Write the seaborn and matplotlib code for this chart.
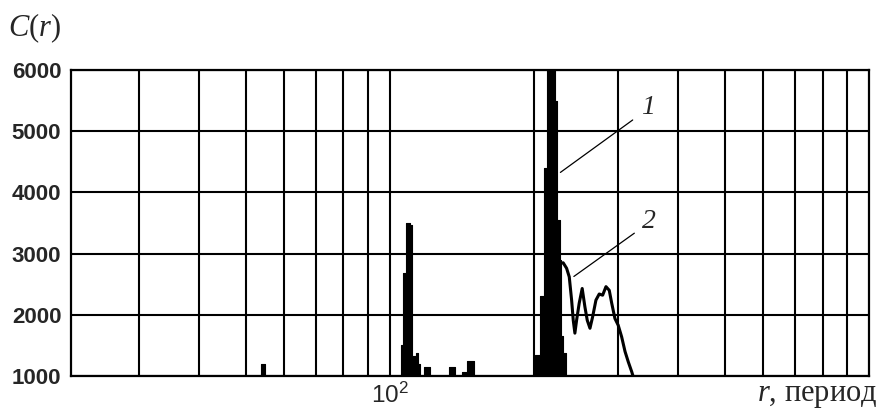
import matplotlib
matplotlib.use('Agg')
import matplotlib.pyplot as plt
import numpy as np
import pandas as pd
import seaborn as sns

# values
# curve 1: black spikes, step heights starting at each r edge (1000 = baseline)
bar_r = [53.8, 55.0, 105.4, 106.6, 107.8, 110.1, 111.0, 113.2, 114.6, 115.5,
         117.9, 121.2, 132.8, 136.7, 141.1, 144.6, 149.7,
         201.2, 205.6, 209.6, 212.3, 221.0, 223.5, 226.1, 227.8, 230.2, 233.4]
bar_c = [1200, 1000, 1500, 2680, 3500, 3470, 1320, 1380, 1200, 1000,
         1140, 1000, 1140, 1000, 1070, 1250, 1000,
         1340, 2300, 4400, 6000, 5500, 3550, 2900, 1650, 1380, 1000]

# curve 2: thin line
curve_r = [223.5, 226.4, 230.0, 233.8, 236.8, 239.5, 241.4, 243.3, 245.3, 248.4,
           252.0, 255.3, 258.2, 261.6, 265.0, 269.2, 273.5, 278.0, 282.5, 287.0,
           290.4, 294.9, 299.6, 304.6, 309.6, 314.5, 319.7, 321.7]
curve_c = [2850, 2840, 2850, 2760, 2620, 2240, 1910, 1700, 1910, 2190,
           2430, 2130, 1910, 1780, 1970, 2240, 2340, 2320, 2460, 2400,
           2190, 1940, 1830, 1640, 1400, 1230, 1070, 1000]

y_ticks = [1000, 2000, 3000, 4000, 5000, 6000]
x_minor = [30, 40, 50, 60, 70, 80, 90, 200, 300, 400, 500, 600, 700, 800, 900]

sns.set_style('white')
plt.rcParams['mathtext.fontset'] = 'custom'
plt.rcParams['mathtext.it'] = 'Liberation Serif:italic'
plt.rcParams['mathtext.rm'] = 'Liberation Serif'
plt.rcParams['path.simplify'] = False

fig = plt.figure(figsize=(8.82, 4.11), dpi=100)
ax = fig.add_axes([71 / 882, 1 - 376 / 411, 798 / 882, 306 / 411])

ax.set_xscale('log')
ax.set_xlim(21.6, 1000)
ax.set_ylim(1000, 6000)

# spikes
ax.fill_between(bar_r, bar_c, 1000, step='post', facecolor='black',
                edgecolor='black', lw=0.8, antialiased=False, zorder=3)

# line curve
df = pd.DataFrame({'r': curve_r, 'C': curve_c})
sns.lineplot(data=df, x='r', y='C', ax=ax, color='black', lw=2.2, sort=False, zorder=4)

# grid
ax.set_xticks([100])
ax.set_xticklabels([r'$\mathregular{10^2}$'])
ax.set_xticks(x_minor, minor=True)
ax.set_xticklabels([], minor=True)
ax.set_yticks(y_ticks)
ax.set_yticklabels([str(v) for v in y_ticks])
ax.grid(True, which='both', axis='x', color='black', lw=1.5)
ax.grid(True, which='major', axis='y', color='black', lw=1.5)
ax.set_axisbelow(True)
for s in ax.spines.values():
    s.set_color('black')
    s.set_linewidth(1.6)

ax.tick_params(axis='both', which='both', length=0)
ax.tick_params(axis='y', pad=7)
ax.tick_params(axis='x', pad=5)
for lab in ax.get_yticklabels():
    lab.set_fontfamily('Liberation Sans')
    lab.set_fontweight('bold')
    lab.set_fontsize(16)
for lab in ax.get_xticklabels():
    lab.set_fontfamily('Liberation Sans')
    lab.set_fontsize(17.5)
ax.set_xlabel('')
ax.set_ylabel('')

# leader lines and labels
ax.annotate('', xy=(224.5, 4300), xytext=(324.7, 5210),
            arrowprops=dict(arrowstyle='-', color='black', lw=0.9))
ax.annotate('', xy=(239.5, 2600), xytext=(327.3, 3360),
            arrowprops=dict(arrowstyle='-', color='black', lw=0.9))
ax.text(345.6, 5380, '1', fontsize=20, fontstyle='italic', family='Liberation Serif',
        ha='center', va='center')
ax.text(347.3, 3520, '2', fontsize=20, fontstyle='italic', family='Liberation Serif',
        ha='center', va='center')

# axis captions
fig.text(8 / 882, 1 - 36 / 411, '$C$($r$)', fontsize=22, family='Liberation Serif',
         ha='left', va='baseline')
fig.text(878 / 882, 1 - 401 / 411, '$r$, период', fontsize=22, family='Liberation Serif',
         ha='right', va='baseline')

fig.savefig('out.png', dpi=100)
